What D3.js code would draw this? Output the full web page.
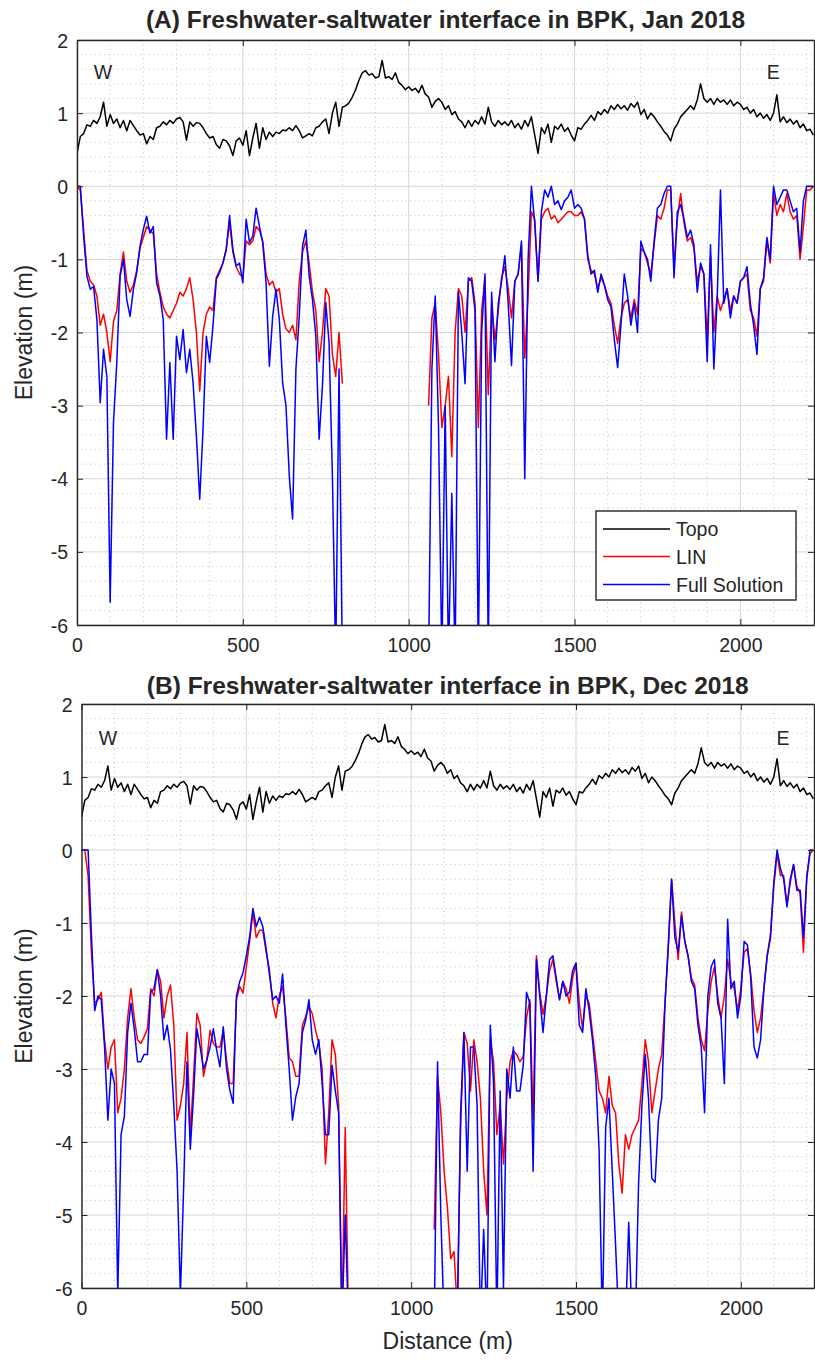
<!DOCTYPE html>
<html><head><meta charset="utf-8">
<script src="https://cdn.jsdelivr.net/npm/d3@7"></script>
<style>
body{margin:0;background:#fff}
svg{display:block}
text{font-family:"Liberation Sans",Arial,Helvetica,sans-serif;fill:#262626}
</style>
</head><body>
<svg id="chart" width="815" height="1361"></svg>
<script>
// ---------------- data ----------------
const distanceStep = 10;            // metres between samples (distance axis, 0 … 2220 m)
const xTickValues = [0, 500, 1000, 1500, 2000];
const yTickValues = [-6, -5, -4, -3, -2, -1, 0, 1, 2];
const seriesNames = ["Topo", "LIN", "Full Solution"];
const panelTitles = ["(A) Freshwater-saltwater interface in BPK, Jan 2018",
                     "(B) Freshwater-saltwater interface in BPK, Dec 2018"];
const directionLabels = ["W", "E"];
const directionPosJan = [[78, 1.56], [2099, 1.56]];
const directionPosDec = [[80, 1.54], [2128, 1.54]];

// ground surface elevation (m), same for both surveys
const topo = [
 0.45,0.68,0.72,0.84,0.82,0.9,0.86,0.95,1.15,0.82,
 0.98,0.86,0.92,0.8,0.9,0.76,0.9,0.83,0.76,0.7,
 0.72,0.58,0.68,0.64,0.8,0.82,0.88,0.84,0.9,0.86,
 0.92,0.94,0.88,0.63,0.88,0.82,0.87,0.86,0.8,0.72,
 0.66,0.68,0.57,0.52,0.64,0.62,0.55,0.42,0.62,0.66,
 0.56,0.76,0.42,0.66,0.86,0.52,0.8,0.64,0.74,0.68,
 0.74,0.72,0.77,0.76,0.8,0.76,0.83,0.76,0.66,0.69,
 0.72,0.69,0.8,0.82,0.88,0.92,0.72,1.0,1.15,0.82,
 1.08,1.1,1.14,1.22,1.32,1.45,1.55,1.58,1.52,1.54,
 1.48,1.5,1.72,1.48,1.5,1.46,1.55,1.42,1.38,1.32,
 1.36,1.31,1.34,1.28,1.38,1.26,1.22,1.08,1.16,1.2,
 1.15,1.05,1.1,0.98,1.02,0.92,0.88,0.8,0.9,0.82,
 0.9,0.85,0.95,0.85,1.08,0.88,0.82,0.9,0.84,0.88,
 0.83,0.9,0.8,0.86,0.78,0.9,0.82,0.95,0.7,0.45,
 0.8,0.72,0.85,0.6,0.82,0.78,0.85,0.75,0.8,0.7,
 0.62,0.8,0.78,0.85,0.9,0.97,0.9,1.02,0.98,1.05,
 1.0,1.1,1.05,1.12,1.06,1.1,1.04,1.13,1.08,1.15,
 0.98,1.05,0.92,1.0,0.95,0.88,0.82,0.75,0.7,0.62,
 0.78,0.85,0.95,1.0,1.05,1.1,1.05,1.18,1.4,1.2,
 1.15,1.2,1.12,1.2,1.15,1.18,1.12,1.18,1.1,1.15,
 1.12,1.05,1.08,1.0,1.05,0.95,1.0,0.93,0.98,0.9,
 1.0,1.25,0.88,0.95,0.87,0.92,0.85,0.9,0.8,0.85,
 0.76,0.78,0.7
];

// Jan 2018 interface (m)
const linJan = [
 0,-0.05,-0.6,-1.15,-1.3,-1.35,-1.5,-1.9,-1.75,-2.0,
 -2.4,-1.85,-1.7,-1.2,-0.9,-1.3,-1.45,-1.35,-1.15,-0.85,
 -0.7,-0.55,-0.6,-0.65,-1.2,-1.45,-1.65,-1.75,-1.8,-1.7,
 -1.6,-1.45,-1.5,-1.4,-1.25,-1.55,-2.0,-2.8,-2.0,-1.75,
 -1.65,-1.7,-1.25,-1.15,-1.05,-0.85,-0.5,-0.9,-1.1,-1.2,
 -1.25,-0.75,-0.8,-0.75,-0.55,-0.6,-0.75,-1.2,-1.35,-1.3,
 -1.45,-1.4,-1.75,-1.95,-2.0,-1.9,-2.1,-1.3,-0.9,-0.75,
 -1.05,-1.45,-1.7,-2.4,-2.0,-1.4,-1.5,-2.3,-2.6,-2.0,
 -2.7,
 null,null,null,null,null,null,null,null,null,null,
 null,null,null,null,null,null,null,null,null,null,
 null,null,null,null,null,
 -3.0,-1.8,-1.6,-2.3,-3.3,-3.0,-2.6,-3.7,-2.0,-1.4,
 -1.5,-2.0,-1.3,-1.25,-1.6,-3.3,-1.7,-1.25,-2.85,-1.6,
 -2.1,-1.7,-1.25,-1.1,-1.4,-1.8,-1.3,-1.2,-0.8,-2.35,
 -1.5,-0.35,-0.45,-1.3,-0.45,-0.35,-0.3,-0.45,-0.4,-0.5,
 -0.45,-0.4,-0.35,-0.35,-0.4,-0.4,-0.35,-0.45,-1.0,-1.15,
 -1.2,-1.4,-1.25,-1.35,-1.5,-1.6,-1.9,-2.15,-1.8,-1.6,
 -1.55,-1.8,-1.55,-1.75,-0.85,-0.9,-1.05,-1.2,-0.8,-0.4,
 -0.45,-0.3,-0.05,-0.05,-1.1,-0.45,-0.1,-0.5,-0.75,-0.7,
 -0.85,-1.3,-1.1,-1.2,-2.1,-0.95,-2.0,-1.5,-1.7,-1.55,
 -1.4,-1.7,-1.5,-1.6,-1.3,-1.25,-1.2,-1.7,-1.8,-2.05,
 -1.4,-1.3,-0.75,-1.05,-0.1,-0.4,-0.25,-0.35,-0.1,-0.35,
 -0.45,-0.4,-1.0,-0.55,-0.05,-0.05,0.0
];
const fullJan = [
 0,0,-0.68,-1.23,-1.41,-1.37,-1.82,-2.96,-2.23,-2.6,
 -5.69,-3.23,-2.41,-1.23,-1.0,-1.55,-1.78,-1.41,-1.18,-0.82,
 -0.59,-0.41,-0.64,-0.55,-1.32,-1.5,-1.82,-3.46,-2.41,-3.46,
 -2.05,-2.37,-1.96,-2.55,-2.23,-2.69,-3.42,-4.28,-3.32,-2.05,
 -2.41,-1.91,-1.27,-1.18,-1.05,-0.87,-0.4,-0.87,-1.09,-1.05,
 -1.32,-0.45,-0.77,-0.68,-0.3,-0.55,-0.77,-1.32,-2.46,-1.78,
 -1.41,-1.82,-2.69,-3.0,-3.96,-4.55,-2.5,-1.78,-0.82,-0.6,
 -1.23,-1.55,-2.05,-3.46,-2.73,-1.59,-2.14,-3.96,-6.5,-2.5,
 -6.5,
 null,null,null,null,null,null,null,null,null,null,
 null,null,null,null,null,null,null,null,null,null,
 null,null,null,null,null,
 -6.5,-2.5,-1.5,-3.3,-6.5,-3.0,-6.5,-4.2,-6.5,-1.45,
 -2.0,-2.7,-1.25,-1.3,-1.7,-6.5,-2.0,-1.2,-6.5,-1.45,
 -2.4,-1.6,-1.3,-0.95,-1.6,-2.45,-1.3,-1.2,-0.75,-4.0,
 -1.0,0.0,-0.5,-1.3,-0.35,-0.05,-0.15,0.0,-0.25,-0.2,
 -0.32,-0.2,-0.15,-0.05,-0.3,-0.25,-0.3,-0.45,-0.95,-1.2,
 -1.15,-1.45,-1.2,-1.35,-1.55,-1.65,-2.1,-2.48,-1.9,-1.2,
 -1.5,-1.9,-1.6,-2.0,-0.75,-0.9,-1.0,-1.3,-0.75,-0.3,
 -0.25,-0.1,0.0,0.0,-1.25,-0.35,-0.25,-0.45,-0.7,-0.6,
 -0.8,-1.45,-1.05,-1.2,-2.4,-0.8,-2.5,-1.55,-0.05,-1.6,
 -1.4,-1.8,-1.5,-1.6,-1.3,-1.25,-1.1,-1.6,-1.9,-2.3,
 -1.4,-1.25,-0.7,-1.0,0.0,-0.25,-0.15,-0.05,-0.05,-0.2,
 -0.35,-0.3,-0.9,-0.2,0.0,0.0,0.0
];

// Dec 2018 interface (m)
const linDec = [
 0,0,-0.35,-1.4,-2.1,-2.05,-1.95,-2.6,-3.0,-2.7,
 -2.6,-3.6,-3.4,-3.0,-2.3,-1.9,-2.3,-2.6,-2.65,-2.56,
 -2.45,-1.9,-2.0,-1.64,-1.8,-2.3,-2.0,-1.85,-2.4,-3.7,
 -3.5,-3.2,-2.5,-3.9,-3.1,-2.24,-2.4,-3.1,-2.88,-2.47,
 -2.65,-2.7,-2.7,-2.47,-2.88,-3.2,-3.2,-2.05,-1.87,-1.96,
 -1.6,-1.25,-0.85,-1.2,-1.1,-1.1,-1.4,-1.64,-2.1,-2.3,
 -2.0,-1.87,-2.3,-2.85,-2.9,-3.1,-3.1,-2.4,-2.28,-2.15,
 -2.24,-2.47,-2.65,-3.0,-4.3,-3.6,-2.6,-2.8,-3.5,-6.5,
 -3.8,-6.5,
 null,null,null,null,null,null,null,null,null,null,
 null,null,null,null,null,null,null,null,null,null,
 null,null,null,null,null,
 -5.2,-3.1,-3.6,-4.4,-4.9,-5.6,-5.5,-6.3,-3.8,-2.5,
 -2.65,-3.3,-2.6,-2.9,-3.4,-4.4,-5.0,-2.6,-2.9,-3.9,
 -3.5,-4.3,-3.4,-2.9,-2.75,-2.8,-2.9,-2.83,-2.3,-2.05,
 -3.7,-1.45,-1.95,-2.25,-2.0,-1.65,-1.5,-1.8,-2.05,-1.8,
 -1.9,-2.1,-1.75,-1.55,-2.1,-2.45,-2.0,-2.1,-2.5,-2.9,
 -3.3,-3.4,-3.6,-3.1,-3.5,-3.6,-4.3,-4.7,-3.9,-4.1,
 -3.9,-3.8,-3.7,-3.2,-2.6,-2.9,-3.6,-3.3,-3.0,-2.8,
 -2.1,-1.35,-0.4,-1.0,-1.5,-0.85,-1.25,-1.45,-1.75,-1.85,
 -2.3,-2.6,-2.75,-2.2,-1.8,-1.6,-2.0,-2.3,-2.0,-1.5,
 -1.8,-1.9,-2.2,-1.9,-1.4,-1.35,-1.7,-2.2,-2.5,-2.3,
 -1.9,-1.45,-1.15,-0.5,-0.05,-0.35,-0.35,-0.75,-0.45,-0.2,
 -0.5,-0.6,-1.4,-0.35,-0.05,0.0
];
const fullDec = [
 0,0,0,-1.15,-2.2,-2.0,-2.05,-2.7,-3.7,-3.0,
 -3.2,-6.1,-3.9,-3.65,-2.5,-2.1,-2.45,-2.9,-2.9,-2.8,
 -2.8,-1.95,-1.9,-1.64,-2.0,-2.6,-2.4,-2.74,-3.5,-4.4,
 -6.1,-4.6,-2.9,-4.1,-3.35,-2.45,-2.7,-3.0,-2.88,-2.7,
 -2.45,-2.74,-2.97,-2.42,-3.0,-3.29,-3.47,-2.0,-1.8,-1.68,
 -1.45,-1.19,-0.8,-1.05,-0.92,-1.05,-1.35,-1.7,-2.05,-2.0,
 -2.1,-1.7,-2.4,-3.0,-3.7,-3.38,-3.2,-2.5,-2.33,-2.05,
 -2.6,-2.8,-2.6,-3.2,-3.9,-3.9,-2.95,-3.3,-3.6,-6.5,
 -5.0,-6.5,
 null,null,null,null,null,null,null,null,null,null,
 null,null,null,null,null,null,null,null,null,null,
 null,null,null,null,null,
 -6.5,-2.9,-5.0,-6.5,-6.5,-6.5,-6.5,-6.5,-3.6,-2.5,
 -4.4,-2.7,-2.7,-3.5,-6.5,-5.2,-6.5,-2.4,-3.2,-6.5,
 -3.3,-6.0,-3.0,-3.4,-2.7,-3.3,-3.3,-2.95,-1.95,-2.1,
 -4.4,-1.5,-2.0,-2.5,-2.0,-1.5,-1.45,-1.75,-2.05,-1.8,
 -2.0,-1.95,-1.65,-1.55,-2.4,-2.5,-1.9,-2.2,-2.6,-3.1,
 -4.1,-6.5,-3.8,-3.4,-4.4,-5.4,-6.5,-6.5,-6.5,-5.1,
 -6.5,-6.5,-4.55,-3.5,-2.8,-3.4,-4.5,-4.55,-3.7,-3.4,
 -2.1,-1.3,-0.4,-1.2,-1.4,-0.9,-1.25,-1.45,-1.8,-1.9,
 -2.4,-2.7,-3.6,-2.0,-1.6,-1.5,-2.1,-2.3,-3.2,-0.95,
 -1.9,-1.8,-2.3,-2.0,-1.25,-1.3,-1.75,-2.7,-2.85,-2.6,
 -1.9,-1.45,-1.2,-0.45,0.0,-0.25,-0.4,-0.78,-0.4,-0.2,
 -0.55,-0.55,-1.2,-0.4,0.0,0.0
];

// ---------------- styling / layout ----------------
const colors = {topo: "#000000", lin: "#ff0000", full: "#0000ff"};
const xDomain = [0, 2222];
const yDomain = [-6, 2];

const panels = [
  {left: 77,  right: 814, top: 40,  bottom: 625,  title: panelTitles[0], titleY: 28,
   lin: linJan, full: fullJan, dirPos: directionPosJan, legend: true, xlabel: false},
  {left: 81.5, right: 814, top: 704, bottom: 1288, title: panelTitles[1], titleY: 694,
   lin: linDec, full: fullDec, dirPos: directionPosDec, legend: false, xlabel: true}
];

const svg = d3.select("#chart");
const ink = "#262626";

panels.forEach((p, pi) => {
  const x = d3.scaleLinear().domain(xDomain).range([p.left, p.right]);
  const y = d3.scaleLinear().domain(yDomain).range([p.bottom, p.top]);
  const g = svg.append("g");

  // minor grid (dotted)
  const xMinor = d3.range(0, xDomain[1], 100).filter(v => v % 500 !== 0);
  const yMinor = d3.range(-6, 2.0001, 0.2).map(v => +v.toFixed(1)).filter(v => Math.abs(v - Math.round(v)) > 1e-6);
  g.append("g").selectAll("line").data(xMinor).join("line")
    .attr("x1", d => x(d)).attr("x2", d => x(d)).attr("y1", p.top).attr("y2", p.bottom)
    .attr("stroke", "#c4c4c4").attr("stroke-width", 1).attr("stroke-dasharray", "1,3.5");
  g.append("g").selectAll("line").data(yMinor).join("line")
    .attr("y1", d => y(d)).attr("y2", d => y(d)).attr("x1", p.left).attr("x2", p.right)
    .attr("stroke", "#c4c4c4").attr("stroke-width", 1).attr("stroke-dasharray", "1,3.5");

  // major grid
  g.append("g").selectAll("line").data(xTickValues).join("line")
    .attr("x1", d => x(d)).attr("x2", d => x(d)).attr("y1", p.top).attr("y2", p.bottom)
    .attr("stroke", "#d6d6d6").attr("stroke-width", 1);
  g.append("g").selectAll("line").data(yTickValues).join("line")
    .attr("y1", d => y(d)).attr("y2", d => y(d)).attr("x1", p.left).attr("x2", p.right)
    .attr("stroke", "#d6d6d6").attr("stroke-width", 1);

  // clip
  const clipId = "clip" + pi;
  svg.append("clipPath").attr("id", clipId).append("rect")
    .attr("x", p.left).attr("y", p.top).attr("width", p.right - p.left).attr("height", p.bottom - p.top);

  const line = d3.line()
    .defined(d => d != null)
    .x((d, i) => x(i * distanceStep))
    .y(d => y(d));

  const lines = g.append("g").attr("clip-path", `url(#${clipId})`);
  [[topo, colors.topo], [p.lin, colors.lin], [p.full, colors.full]].forEach(([arr, c]) => {
    lines.append("path").datum(arr).attr("d", line)
      .attr("fill", "none").attr("stroke", c).attr("stroke-width", 1.5)
      .attr("stroke-linejoin", "round");
  });

  // axes (box)
  const axB = d3.axisBottom(x).tickValues(xTickValues).tickSizeInner(-6).tickSizeOuter(0).tickFormat(d3.format("d"));
  const axT = d3.axisTop(x).tickValues(xTickValues).tickSizeInner(-6).tickSizeOuter(0).tickFormat("");
  const fmtY = d => String(d).replace("\u2212", "-");
  const axL = d3.axisLeft(y).tickValues(yTickValues).tickSizeInner(-6).tickSizeOuter(0).tickFormat(fmtY);
  const axR = d3.axisRight(y).tickValues(yTickValues).tickSizeInner(-6).tickSizeOuter(0).tickFormat("");

  const gb = g.append("g").attr("transform", `translate(0,${p.bottom})`).call(axB);
  const gt = g.append("g").attr("transform", `translate(0,${p.top})`).call(axT);
  const gl = g.append("g").attr("transform", `translate(${p.left},0)`).call(axL);
  const gr = g.append("g").attr("transform", `translate(${p.right},0)`).call(axR);
  [gb, gt, gl, gr].forEach(a => {
    a.select(".domain").attr("stroke", ink).attr("stroke-width", 1.4);
    a.selectAll(".tick line").attr("stroke", ink).attr("stroke-width", 1);
    a.selectAll(".tick text").attr("fill", ink).style("font-size", "19.5px")
      .style("font-family", '"Liberation Sans", Arial, sans-serif');
  });
  gb.selectAll(".tick text").attr("y", 13).attr("dy", "0.71em");
  gl.selectAll(".tick text").attr("x", -9).attr("dy", "0.36em");

  // title
  g.append("text").attr("x", (p.left + p.right) / 2).attr("y", p.titleY)
    .attr("text-anchor", "middle").style("font-size", "24.5px").style("font-weight", "bold")
    .attr("fill", "#000").text(p.title);

  // y label
  g.append("text")
    .attr("transform", `translate(32,${(p.top + p.bottom) / 2}) rotate(-90)`)
    .attr("text-anchor", "middle").style("font-size", "23px").text("Elevation (m)");

  // W / E
  directionLabels.forEach((t, k) => {
    g.append("text").attr("x", x(p.dirPos[k][0])).attr("y", y(p.dirPos[k][1]))
      .attr("text-anchor", "middle").attr("dy", "0.36em")
      .style("font-size", "19.5px").attr("fill", "#000").text(t);
  });

  if (p.xlabel) {
    g.append("text").attr("x", (p.left + p.right) / 2).attr("y", p.bottom + 61)
      .attr("text-anchor", "middle").style("font-size", "23px").text("Distance (m)");
  }

  if (p.legend) {
    const lg = g.append("g");
    const bx = 596, by = 511, bw = 200, bh = 89;
    lg.append("rect").attr("x", bx).attr("y", by).attr("width", bw).attr("height", bh)
      .attr("fill", "#fff").attr("stroke", ink).attr("stroke-width", 1.4);
    const rowsY = [529, 556.5, 584.5];
    const cols = [colors.topo, colors.lin, colors.full];
    seriesNames.forEach((n, k) => {
      lg.append("line").attr("x1", 603).attr("x2", 670).attr("y1", rowsY[k]).attr("y2", rowsY[k])
        .attr("stroke", cols[k]).attr("stroke-width", 1.5);
      lg.append("text").attr("x", 676).attr("y", rowsY[k]).attr("dy", "0.36em")
        .style("font-size", "19.5px").attr("fill", "#000").text(n);
    });
  }
});
</script>
</body></html>
